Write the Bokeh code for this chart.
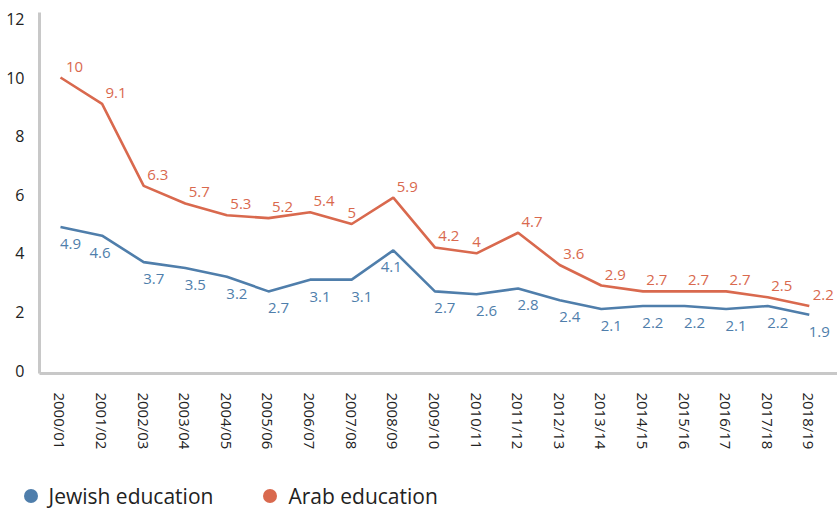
import math
from bokeh.plotting import figure
from bokeh.models import (ColumnDataSource, FixedTicker, Range1d, Legend, LegendItem)
from bokeh.core.properties import value
from bokeh.embed import file_html
from bokeh.resources import INLINE

years = ["2000/01", "2001/02", "2002/03", "2003/04", "2004/05", "2005/06", "2006/07",
         "2007/08", "2008/09", "2009/10", "2010/11", "2011/12", "2012/13", "2013/14",
         "2014/15", "2015/16", "2016/17", "2017/18", "2018/19"]
jewish = [4.9, 4.6, 3.7, 3.5, 3.2, 2.7, 3.1, 3.1, 4.1, 2.7, 2.6, 2.8, 2.4, 2.1, 2.2, 2.2, 2.1, 2.2, 1.9]
arab = [10, 9.1, 6.3, 5.7, 5.3, 5.2, 5.4, 5, 5.9, 4.2, 4, 4.7, 3.6, 2.9, 2.7, 2.7, 2.7, 2.5, 2.2]
series_names = ["Jewish education", "Arab education"]
y_ticks = [0, 2, 4, 6, 8, 10, 12]

BLUE = "#4f7eab"
RED = "#d9694e"
FONT = "Open Sans"

idx = list(range(len(years)))


def nxt(vals, i):
    return vals[i + 1] if i + 1 < len(vals) else vals[i]


# label placement: shift label over the point when the line climbs/drops steeply after it
arab_dx = [0 if nxt(arab, i) > v + 0.3 else 14 for i, v in enumerate(arab)]
jew_dx = [-2 if nxt(jewish, i) < v - 0.5 else 10 for i, v in enumerate(jewish)]

src = ColumnDataSource(dict(
    x=idx, jewish=jewish, arab=arab,
    jl=[f"{v:g}" for v in jewish], al=[f"{v:g}" for v in arab],
    jdx=jew_dx, adx=arab_dx,
))

# whole canvas is the frame; axes are pinned inside it
X0, X1 = -1.442, 18.678
Y0, Y1 = -4.744, 12.628
AX_X, AX_Y = -0.505, -0.1

p = figure(width=837, height=509, output_backend="svg", toolbar_location=None,
           x_range=Range1d(X0, X1), y_range=Range1d(Y0, Y1),
           min_border=0, min_border_left=0, min_border_right=0,
           min_border_top=0, min_border_bottom=0)
p.outline_line_color = None
p.xgrid.visible = False
p.ygrid.visible = False

# axes
xa = p.xaxis[0]
xa.fixed_location = AX_Y
xa.bounds = (AX_X, X1)
xa.ticker = FixedTicker(ticks=idx)
xa.major_label_overrides = {i: y for i, y in zip(idx, years)}
xa.major_label_orientation = -math.pi / 2
xa.major_tick_line_color = None
xa.minor_tick_line_color = None
xa.axis_line_color = "#c8c8c8"
xa.axis_line_width = 3
xa.major_label_standoff = 13
xa.major_label_text_font = FONT
xa.major_label_text_font_size = "15px"
xa.major_label_text_color = "#222222"

ya = p.yaxis[0]
ya.fixed_location = AX_X
ya.bounds = (AX_Y, 12.22)
ya.ticker = FixedTicker(ticks=y_ticks)
ya.major_tick_line_color = None
ya.minor_tick_line_color = None
ya.axis_line_color = "#c8c8c8"
ya.axis_line_width = 3
ya.major_label_standoff = 9
ya.major_label_text_font = FONT
ya.major_label_text_font_size = "16px"
ya.major_label_text_color = "#222222"

# lines
p.line("x", "jewish", source=src, line_color=BLUE, line_width=2.6)
p.line("x", "arab", source=src, line_color=RED, line_width=2.6)

# data labels
p.text("x", "jewish", text="jl", source=src, x_offset="jdx", y_offset=17,
       text_align="center", text_baseline="middle", text_color=BLUE,
       text_font=value(FONT), text_font_size="15px")
p.text("x", "arab", text="al", source=src, x_offset="adx", y_offset=-11,
       text_align="center", text_baseline="middle", text_color=RED,
       text_font=value(FONT), text_font_size="15px")

# zero-size markers on the series, used only as legend glyphs
lj = p.scatter("x", "jewish", source=src, size=0, fill_color=BLUE, line_color=None)
la = p.scatter("x", "arab", source=src, size=0, fill_color=RED, line_color=None)

legend = Legend(items=[LegendItem(label=series_names[0], renderers=[lj]),
                       LegendItem(label=series_names[1], renderers=[la])],
                orientation="horizontal", location=(12.5, -4),
                glyph_width=35, glyph_height=35, label_standoff=1, spacing=39,
                padding=0, margin=0,
                background_fill_alpha=0, border_line_alpha=0,
                label_text_font=FONT, label_text_font_size="21px",
                label_text_color="#222222")
p.add_layout(legend, "center")

open("out.html", "w").write(file_html(p, INLINE))
